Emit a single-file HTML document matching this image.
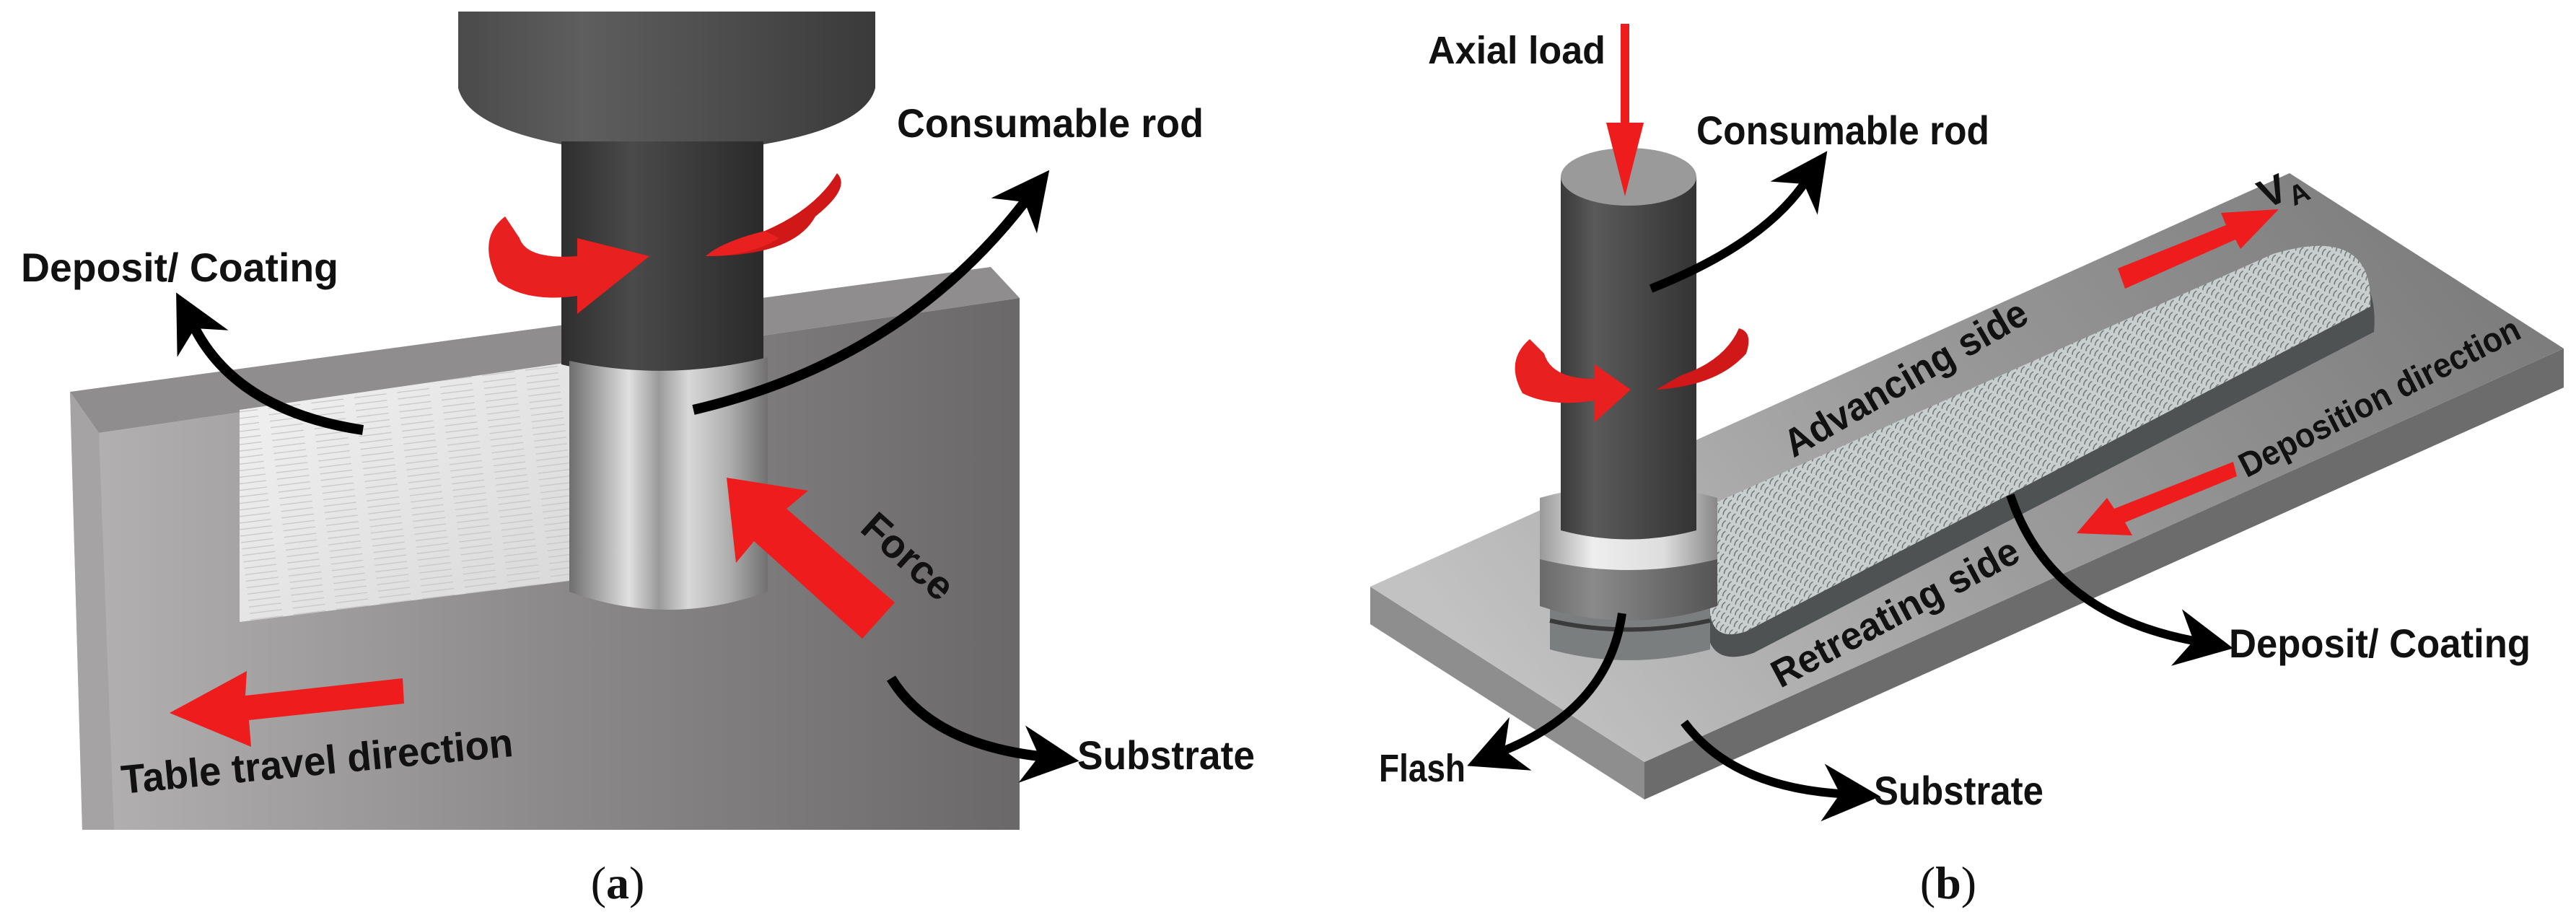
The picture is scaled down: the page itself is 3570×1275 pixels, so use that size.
<!DOCTYPE html>
<html><head><meta charset="utf-8"><style>
html,body{margin:0;padding:0;background:#fff;}
svg{display:block;}
text{font-family:"Liberation Sans",sans-serif;font-weight:bold;fill:#111;}
</style></head><body>
<svg width="3570" height="1275" viewBox="0 0 3570 1275" xmlns="http://www.w3.org/2000/svg">
<defs>
<linearGradient id="blk" x1="0" x2="1" y1="0" y2="0">
<stop offset="0" stop-color="#b4b2b2"/><stop offset="0.5" stop-color="#8c8a8a"/><stop offset="1" stop-color="#6a6868"/></linearGradient>
<linearGradient id="hold" x1="0" x2="1"><stop offset="0" stop-color="#4a4a4a"/><stop offset="0.3" stop-color="#5e5e5e"/><stop offset="1" stop-color="#3a3a3a"/></linearGradient>
<linearGradient id="rod" x1="0" x2="1"><stop offset="0" stop-color="#2e2e2e"/><stop offset="0.35" stop-color="#4a4a4a"/><stop offset="1" stop-color="#2a2a2a"/></linearGradient>
<linearGradient id="metal" x1="0" x2="1"><stop offset="0" stop-color="#6e6e6e"/><stop offset="0.15" stop-color="#a8a8a8"/><stop offset="0.3" stop-color="#e0e0e0"/><stop offset="0.45" stop-color="#9a9a9a"/><stop offset="0.6" stop-color="#d8d8d8"/><stop offset="0.8" stop-color="#b0b0b0"/><stop offset="1" stop-color="#707070"/></linearGradient>
<linearGradient id="dep" x1="0" x2="1" y1="0" y2="1"><stop offset="0" stop-color="#f2f2f2"/><stop offset="1" stop-color="#d8d8d8"/></linearGradient>
<linearGradient id="plate" x1="0" x2="1" y1="0.6" y2="0.2"><stop offset="0" stop-color="#c2c2c2"/><stop offset="0.45" stop-color="#9c9c9c"/><stop offset="1" stop-color="#7a7a7a"/></linearGradient>
<linearGradient id="rodb" x1="0" x2="1"><stop offset="0" stop-color="#3a3a3a"/><stop offset="0.25" stop-color="#5a5a5a"/><stop offset="1" stop-color="#333"/></linearGradient>
<linearGradient id="ring" x1="0" x2="1"><stop offset="0" stop-color="#999"/><stop offset="0.3" stop-color="#eee"/><stop offset="0.7" stop-color="#ddd"/><stop offset="1" stop-color="#888"/></linearGradient>
<linearGradient id="base" x1="0" x2="1"><stop offset="0" stop-color="#6a6a6a"/><stop offset="0.3" stop-color="#8a8a8a"/><stop offset="1" stop-color="#555"/></linearGradient>
<pattern id="streak" width="60" height="9" patternUnits="userSpaceOnUse" patternTransform="rotate(-7)">
<rect width="60" height="9" fill="none"/><line x1="0" y1="4" x2="45" y2="4" stroke="#c6c6c6" stroke-width="1.2"/></pattern>
<pattern id="speck" width="14" height="14" patternUnits="userSpaceOnUse" patternTransform="rotate(-60)">
<rect width="14" height="14" fill="#c9cfcf"/><path d="M2 3 Q7 0 12 3 M1 10 Q6 7 11 10" stroke="#6f7575" stroke-width="1.6" fill="none"/></pattern>
<marker id="ah" viewBox="0 0 10 10" refX="3" refY="5" markerWidth="80" markerHeight="80" markerUnits="userSpaceOnUse" orient="auto">
<path d="M0,0 L10,5 L0,10 L3,5 Z" fill="#000"/></marker>
</defs>

<!-- ============ PANEL A ============ -->
<polygon points="97,543 1373,370 1413,413 137,600" fill="#8f8d8d"/>
<polygon points="97,543 137,600 1413,413 1413,1150 114,1150" fill="url(#blk)"/>
<polygon points="97,543 137,600 158,1150 114,1150" fill="#a5a3a3"/>
<polygon points="332,568 789,502 789,805 332,862" fill="url(#dep)"/>
<polygon points="332,568 789,502 789,805 332,862" fill="url(#streak)"/>
<path d="M635,16 H1213 V122 Q1200,175 1058,200 H778 Q648,175 635,122 Z" fill="url(#hold)"/>
<path d="M778,196 H1058 V505 Q918,540 778,505 Z" fill="url(#rod)"/>
<path d="M789,500 Q925,530 1064,495 V820 Q925,870 789,820 Z" fill="url(#metal)"/>
<path d="M700,300 Q660,330 690,390 Q730,420 800,410 L800,435 L900,355 L800,330 L800,355 Q730,360 720,330 Z" fill="#e8201f"/>
<path d="M978,355 Q1100,355 1130,300 Q1180,260 1160,240 Q1130,290 1060,320 Z" fill="#d01818"/>
<path d="M1060,320 Q1000,335 978,355 Q1040,355 1080,330 Z" fill="#e8201f"/>
<polygon points="1007,662 1120,680 1090,705 1240,835 1195,885 1045,750 1020,780" fill="#ee1c1c"/>
<text x="0" y="0" font-size="56" transform="translate(1190,735) rotate(42)" textLength="150" lengthAdjust="spacingAndGlyphs">Force</text>
<polygon points="235,988 342,930 340,964 558,940 560,975 345,998 348,1035" fill="#ee1c1c"/>
<path d="M961,568 Q1250,500 1420,280" stroke="#000" stroke-width="14" fill="none" marker-end="url(#ah)"/>
<path d="M503,596 Q330,570 270,455" stroke="#000" stroke-width="14" fill="none" marker-end="url(#ah)"/>
<path d="M1235,940 Q1290,1030 1440,1048" stroke="#000" stroke-width="14" fill="none" marker-end="url(#ah)"/>
<text x="1243" y="190" font-size="56" textLength="425" lengthAdjust="spacingAndGlyphs">Consumable rod</text>
<text x="29" y="390" font-size="56" textLength="440" lengthAdjust="spacingAndGlyphs">Deposit/ Coating</text>
<text x="1493" y="1066" font-size="56" textLength="246" lengthAdjust="spacingAndGlyphs">Substrate</text>
<text x="0" y="0" font-size="56" transform="translate(170,1100) rotate(-5.5)" textLength="545" lengthAdjust="spacingAndGlyphs">Table travel direction</text>
<text x="856" y="1245" font-size="64" text-anchor="middle" style="font-family:'Liberation Serif',serif;font-weight:normal">(<tspan font-weight="bold">a</tspan>)</text>

<!-- ============ PANEL B ============ -->
<polygon points="1899,813 2279,1056 2279,1108 1899,865" fill="#8e8e8e"/>
<polygon points="2279,1056 3553,483 3553,537 2279,1108" fill="#6c6c6c"/>
<polygon points="1899,813 3173,240 3553,483 2279,1056" fill="url(#plate)"/>
<!-- groove wall (visible on lower side) -->
<path d="M2370,730 L3160,380 Q3300,335 3290,460 L2430,905 Q2370,925 2365,870 Z" fill="#4e5252"/>
<path d="M2370,700 L3150,352 Q3290,310 3285,425 L2420,875 Q2375,890 2370,850 Z" fill="url(#speck)"/>
<!-- rod b -->
<path d="M2148,790 H2370 V900 Q2257,930 2148,900 Z" fill="#7a7e7e"/>
<path d="M2148,860 Q2257,885 2370,860" stroke="#3a3a3a" stroke-width="6" fill="none"/>
<path d="M2134,700 H2380 V840 Q2257,880 2134,840 Z" fill="url(#base)"/>
<path d="M2134,690 Q2257,655 2380,690 V775 Q2257,805 2134,775 Z" fill="url(#ring)"/>
<path d="M2163,245 V735 Q2257,760 2351,735 V245 Z" fill="url(#rodb)"/>
<ellipse cx="2257" cy="245" rx="94" ry="40" fill="#9a9a9a"/>
<rect x="2246" y="33" width="12" height="150" fill="#ee1c1c"/>
<polygon points="2226,170 2278,170 2252,272" fill="#ee1c1c"/>
<path d="M2120,470 Q2085,500 2110,545 Q2150,565 2210,555 L2210,585 L2260,540 L2210,505 L2210,525 Q2150,525 2140,490 Z" fill="#e8201f"/>
<path d="M2295,540 Q2380,535 2420,490 Q2430,460 2410,455 Q2390,500 2330,520 Z" fill="#d01818"/>
<polygon points="2935,372 3085,312 3078,295 3158,290 3105,345 3098,332 2945,400" fill="#ee1c1c"/>
<text x="3140" y="290" font-size="56" transform="rotate(-24 3140 290)">V<tspan font-size="38" dy="12">A</tspan></text>
<polygon points="3095,640 3100,660 2945,724 2955,742 2878,739 2920,690 2930,705" fill="#ee1c1c"/>
<text font-size="54" text-anchor="middle" transform="translate(2650,540) rotate(-30)" textLength="380" lengthAdjust="spacingAndGlyphs">Advancing side</text>
<text font-size="48" text-anchor="middle" transform="translate(3305,565) rotate(-27)" textLength="430" lengthAdjust="spacingAndGlyphs">Deposition direction</text>
<text font-size="54" text-anchor="middle" transform="translate(2635,865) rotate(-28)" textLength="380" lengthAdjust="spacingAndGlyphs">Retreating side</text>
<path d="M2288,400 Q2440,340 2500,255" stroke="#000" stroke-width="12" fill="none" marker-end="url(#ah)"/>
<path d="M2786,686 Q2840,850 3040,888" stroke="#000" stroke-width="12" fill="none" marker-end="url(#ah)"/>
<path d="M2248,850 Q2230,980 2085,1040" stroke="#000" stroke-width="12" fill="none" marker-end="url(#ah)"/>
<path d="M2334,1001 Q2400,1090 2550,1100" stroke="#000" stroke-width="12" fill="none" marker-end="url(#ah)"/>
<text x="1979" y="88" font-size="54" textLength="246" lengthAdjust="spacingAndGlyphs">Axial load</text>
<text x="2351" y="200" font-size="56" textLength="406" lengthAdjust="spacingAndGlyphs">Consumable rod</text>
<text x="3089" y="911" font-size="56" textLength="418" lengthAdjust="spacingAndGlyphs">Deposit/ Coating</text>
<text x="1911" y="1083" font-size="54" textLength="120" lengthAdjust="spacingAndGlyphs">Flash</text>
<text x="2597" y="1115" font-size="56" textLength="235" lengthAdjust="spacingAndGlyphs">Substrate</text>
<text x="2700" y="1245" font-size="64" text-anchor="middle" style="font-family:'Liberation Serif',serif;font-weight:normal">(<tspan font-weight="bold">b</tspan>)</text>
</svg>
</body></html>
